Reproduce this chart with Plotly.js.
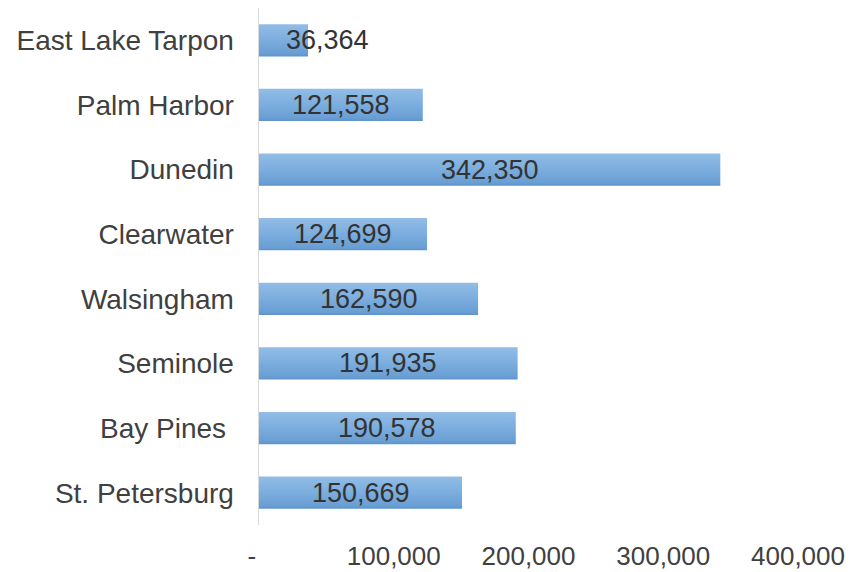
<!DOCTYPE html>
<html>
<head>
<meta charset="utf-8">
<script src="https://cdn.plot.ly/plotly-3.0.1.min.js"></script>
<style>html,body{margin:0;padding:0;background:#fff;}#chart{width:850px;height:572px;}</style>
</head>
<body>
<div id="chart"></div>
<script>
const categories = ["East Lake Tarpon", "Palm Harbor", "Dunedin", "Clearwater", "Walsingham", "Seminole", "Bay Pines ", "St. Petersburg"];
const values = [36364, 121558, 342350, 124699, 162590, 191935, 190578, 150669];
const xTickVals = [0, 100000, 200000, 300000, 400000];
const xTickText = ["-\u00a0\u00a0", "100,000", "200,000", "300,000", "400,000"];

const FONT = "Liberation Sans, Arial, sans-serif";
const displayCats = categories.map(c => c.replace(/ $/, "\u00a0"));
const fmt = v => v.toLocaleString("en-US");

const trace = {
  type: "bar",
  orientation: "h",
  x: values,
  y: displayCats,
  marker: {color: "#78acdf", line: {width: 0}},
  hoverinfo: "none"
};

const annotations = values.map((v, i) => ({
  x: v / 2,
  y: displayCats[i],
  xref: "x", yref: "y",
  text: fmt(v),
  showarrow: false,
  xanchor: v < 60000 ? "left" : "center",
  yanchor: "middle",
  font: {family: FONT, size: 27, color: "#333333"}
}));

const layout = {
  width: 850, height: 572,
  margin: {l: 259, r: 52, t: 8, b: 47},
  paper_bgcolor: "#ffffff",
  plot_bgcolor: "#ffffff",
  showlegend: false,
  bargap: 0.5,
  font: {family: FONT, size: 26, color: "#404040"},
  xaxis: {
    range: [0, 400000],
    tickvals: xTickVals,
    ticktext: xTickText,
    showgrid: false,
    zeroline: false,
    showline: false,
    ticks: "",
    ticklabelstandoff: 13,
    tickfont: {family: FONT, size: 26, color: "#404040"},
    fixedrange: true
  },
  yaxis: {
    type: "category",
    categoryorder: "array",
    categoryarray: displayCats.slice().reverse(),
    showgrid: false,
    zeroline: false,
    showline: true,
    linecolor: "#d9d9d9",
    linewidth: 1.5,
    ticks: "",
    ticklabelstandoff: 18,
    tickfont: {family: FONT, size: 28, color: "#404040"},
    fixedrange: true
  },
  annotations: annotations
};

Plotly.newPlot("chart", [trace], layout, {displayModeBar: false, staticPlot: true}).then(gd => {
  const svg = gd.querySelector("svg.main-svg");
  const ns = "http://www.w3.org/2000/svg";
  let defs = svg.querySelector("defs");
  if (!defs) { defs = document.createElementNS(ns, "defs"); svg.insertBefore(defs, svg.firstChild); }
  const grad = document.createElementNS(ns, "linearGradient");
  grad.setAttribute("id", "barGrad");
  grad.setAttribute("x1", "0"); grad.setAttribute("y1", "0");
  grad.setAttribute("x2", "0"); grad.setAttribute("y2", "1");
  [["0", "#92bde7"], ["0.5", "#7badde"], ["0.9", "#6a9fd4"], ["1", "#5f94cb"]].forEach(([o, c]) => {
    const s = document.createElementNS(ns, "stop");
    s.setAttribute("offset", o); s.setAttribute("stop-color", c);
    grad.appendChild(s);
  });
  defs.appendChild(grad);
  gd.querySelectorAll(".barlayer .point path").forEach(p => { p.style.fill = "url(#barGrad)"; });
});
</script>
</body>
</html>
